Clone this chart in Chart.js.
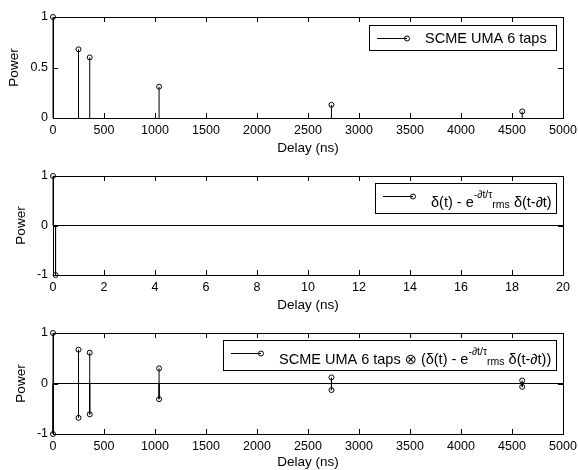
<!DOCTYPE html>
<html>
<head>
<meta charset="utf-8">
<script src="https://cdn.jsdelivr.net/npm/chart.js@4.4.0/dist/chart.umd.min.js"></script>
<style>
  body { margin: 0; background: #fff; }
  #wrap { position: relative; width: 578px; height: 470px; }
  canvas { position: absolute; left: 0; }
</style>
</head>
<body>
<div id="wrap">
  <canvas id="c1" width="578" height="157" style="top:0"></canvas>
  <canvas id="c2" width="578" height="157" style="top:157px"></canvas>
  <canvas id="c3" width="578" height="156" style="top:314px"></canvas>
</div>
<script>
// SCME UMA 6 taps (retardos en ns, potencia lineal)
const tapDelays = [0, 250, 360, 1040, 2730, 4600];
const tapPowers = [1, 0.68, 0.6, 0.31, 0.13, 0.065];

// filtro δ(t) - e^(-∂t/τrms) δ(t-∂t)
const filterDelays = [0, 0.1];
const filterValues = [1, -1];

// convolución: parte positiva y negativa
const convDelays = [0, 250, 360, 1040, 2730, 4600];
const convPos = [1, 0.67, 0.61, 0.3, 0.12, 0.06];
const convNeg = [-1, -0.68, -0.61, -0.31, -0.13, -0.065];

// ticks de los ejes
const delayTicks = [0, 500, 1000, 1500, 2000, 2500, 3000, 3500, 4000, 4500, 5000];
const nsTicks = [0, 2, 4, 6, 8, 10, 12, 14, 16, 18, 20];
const powerTicksTop = [0, 0.5, 1];
const powerTicksSym = [-1, 0, 1];

const FONT = "'Liberation Sans', Arial, 'DejaVu Sans', sans-serif";

// tallos: (x,0) -> (x,y), cortado con null
function stems(xs, ys) {
    const pts = [];
    xs.forEach((x, i) => {
        pts.push({ x: x, y: 0 }, { x: x, y: ys[i] }, { x: x, y: null });
    });
    return pts;
}

function points(xs, ys) {
    return xs.map((x, i) => ({ x: x, y: ys[i] }));
}

// caja estilo MATLAB con ticks hacia dentro + leyenda
const matlabPlugin = {
    id: 'matlab',
    afterDraw(chart, args, opts) {
        const ctx = chart.ctx;
        const a = chart.chartArea;
        const xs = chart.scales.x, ys = chart.scales.y;
        ctx.save();
        ctx.strokeStyle = '#000';
        ctx.lineWidth = 1;
        ctx.beginPath();
        xs.ticks.forEach(t => {
            const px = Math.round(xs.getPixelForValue(t.value)) + 0.5;
            ctx.moveTo(px, a.bottom); ctx.lineTo(px, a.bottom - 5);
            ctx.moveTo(px, a.top); ctx.lineTo(px, a.top + 5);
        });
        ys.ticks.forEach(t => {
            const py = Math.round(ys.getPixelForValue(t.value)) + 0.5;
            ctx.moveTo(a.left, py); ctx.lineTo(a.left + 5, py);
            ctx.moveTo(a.right, py); ctx.lineTo(a.right - 5, py);
        });
        ctx.stroke();
        ctx.strokeRect(a.left + 0.5, a.top + 0.5, a.right - a.left, a.bottom - a.top);

        // leyenda
        const lg = opts.legend;
        if (lg) {
            const w = lg.right - lg.left, h = lg.bottom - lg.top;
            ctx.fillStyle = '#fff';
            ctx.fillRect(lg.left, lg.top, w, h);
            ctx.strokeRect(lg.left + 0.5, lg.top + 0.5, w, h);
            const cy = (lg.top + lg.bottom) / 2;
            const ly = Math.round(cy + lg.lineDy) + 0.5;
            ctx.beginPath();
            ctx.moveTo(lg.left + 8, ly);
            ctx.lineTo(lg.left + 38, ly);
            ctx.stroke();
            ctx.beginPath();
            ctx.arc(lg.left + 38, ly, 2.5, 0, Math.PI * 2);
            ctx.stroke();
            let x = lg.left + 56;
            const base = cy + lg.baseDy;
            ctx.fillStyle = '#000';
            ctx.textBaseline = 'alphabetic';
            ctx.textAlign = 'left';
            lg.parts.forEach(p => {
                ctx.font = p.size + 'px ' + FONT;
                ctx.fillText(p.text, x, base + p.dy);
                x += ctx.measureText(p.text).width;
            });
        }
        ctx.restore();
    }
};

function makeChart(id, cfg) {
    const H = document.getElementById(id).height;
    return new Chart(document.getElementById(id), {
        type: 'scatter',
        data: { datasets: cfg.datasets },
        options: {
            responsive: false,
            animation: false,
            layout: { padding: { top: cfg.top, right: 15, left: 0, bottom: 0 } },
            plugins: {
                legend: { display: false },
                tooltip: { enabled: false },
                matlab: { legend: cfg.legend }
            },
            scales: {
                x: {
                    type: 'linear',
                    min: cfg.xTicks[0],
                    max: cfg.xTicks[cfg.xTicks.length - 1],
                    afterBuildTicks: s => { s.ticks = cfg.xTicks.map(v => ({ value: v })); },
                    afterFit: s => {
                        s.height = H - cfg.bottom;
                        s.paddingLeft = 0; s.paddingRight = 0;
                    },
                    grid: { display: false, drawTicks: false },
                    border: { display: false },
                    ticks: { color: '#000', padding: 5, maxRotation: 0, autoSkip: false,
                        callback: v => String(v), font: { family: FONT, size: 12.5 } },
                    title: { display: true, text: 'Delay (ns)', color: '#000', padding: { top: 0, bottom: cfg.xTitlePad }, font: { family: FONT, size: 13.5 } }
                },
                y: {
                    type: 'linear',
                    min: cfg.yTicks[0],
                    max: cfg.yTicks[cfg.yTicks.length - 1],
                    afterBuildTicks: s => { s.ticks = cfg.yTicks.map(v => ({ value: v })); },
                    afterFit: s => {
                        s.width = 53;
                        s.paddingTop = 0; s.paddingBottom = 0;
                    },
                    grid: { display: false, drawTicks: false },
                    border: { display: false },
                    ticks: { color: '#000', padding: 5, callback: v => String(v), font: { family: FONT, size: 12.5 } },
                    title: { display: true, text: 'Power', color: '#000', padding: { top: cfg.yTitlePad, bottom: 0 }, font: { family: FONT, size: 13.5 } }
                }
            }
        },
        plugins: [matlabPlugin]
    });
}

const stemStyle = { showLine: true, borderColor: '#000', borderWidth: 1, pointRadius: 0, spanGaps: false, clip: false };
const markStyle = { showLine: false, pointRadius: 2.5, pointBorderColor: '#000', pointBackgroundColor: 'rgba(0,0,0,0)', pointBorderWidth: 1, clip: false };

function baseline(ticks) {
    return { data: [{ x: ticks[0], y: 0 }, { x: ticks[ticks.length - 1], y: 0 }], showLine: true, borderColor: '#000', borderWidth: 1, pointRadius: 0 };
}

const supParts = [
    { text: 'δ(t) - e', size: 14.5, dy: 0 },
    { text: '-∂t/τ', size: 10.5, dy: -9 },
    { text: 'rms', size: 10.5, dy: 1 },
    { text: ' δ(t-∂t)', size: 14.5, dy: 0 }
];

makeChart('c1', {
    top: 17, bottom: 118, xTitlePad: 1, yTitlePad: 6,
    xTicks: delayTicks, yTicks: powerTicksTop,
    datasets: [
        Object.assign({ data: stems(tapDelays, tapPowers) }, stemStyle),
        Object.assign({ data: points(tapDelays, tapPowers) }, markStyle)
    ],
    legend: { left: 369, right: 556, top: 25, bottom: 50, lineDy: 0, baseDy: 5.5,
        parts: [{ text: 'SCME UMA 6 taps', size: 14.5, dy: 0 }] }
});

makeChart('c2', {
    top: 19, bottom: 118, xTitlePad: 1, yTitlePad: 13,
    xTicks: nsTicks, yTicks: powerTicksSym,
    datasets: [
        baseline(nsTicks),
        Object.assign({ data: stems(filterDelays, filterValues) }, stemStyle),
        Object.assign({ data: points(filterDelays, filterValues) }, markStyle)
    ],
    legend: { left: 375, right: 556, top: 26, bottom: 56, lineDy: -2, baseDy: 9, parts: supParts }
});

makeChart('c3', {
    top: 19, bottom: 120, xTitlePad: 0, yTitlePad: 13,
    xTicks: delayTicks, yTicks: powerTicksSym,
    datasets: [
        baseline(delayTicks),
        Object.assign({ data: stems(convDelays, convPos).concat(stems(convDelays, convNeg)) }, stemStyle),
        Object.assign({ data: points(convDelays, convPos).concat(points(convDelays, convNeg)) }, markStyle)
    ],
    legend: { left: 223, right: 556, top: 26, bottom: 56, lineDy: -2, baseDy: 9,
        parts: [{ text: 'SCME UMA 6 taps ⊗ (', size: 14.5, dy: 0 }].concat(supParts, [{ text: ')', size: 14.5, dy: 0 }]) }
});
</script>
</body>
</html>
